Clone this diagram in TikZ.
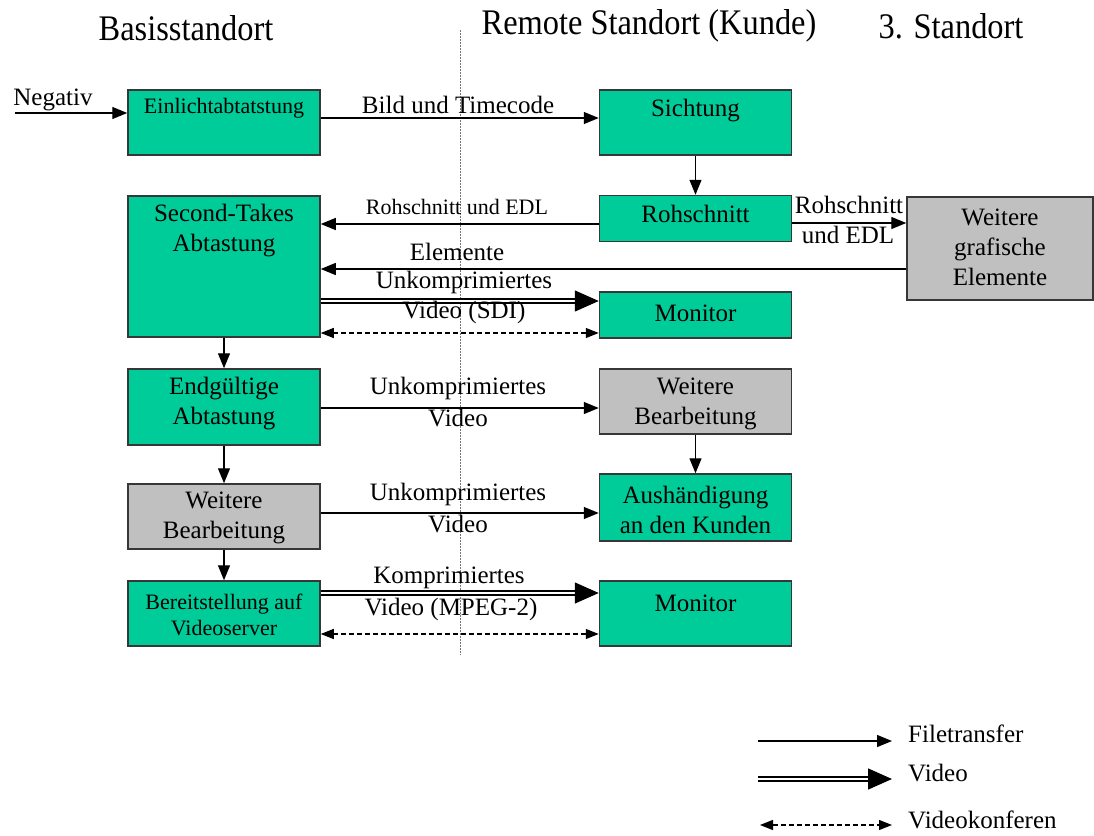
\documentclass[tikz,border=0pt]{standalone}
\usepackage{fontspec}
\setmainfont{Liberation Serif}
\newfontfamily\headfont[FakeStretch=0.9]{Liberation Serif}
\usetikzlibrary{arrows.meta}
\definecolor{boxgreen}{RGB}{0,204,153}
\definecolor{boxgray}{RGB}{192,192,192}
\definecolor{edge}{RGB}{55,55,55}
\definecolor{divider}{RGB}{120,120,120}

\begin{document}
\begin{tikzpicture}[x=1pt,y=-1pt,
  box/.style={draw=edge, line width=1.5pt, minimum width=192pt, inner sep=0pt},
  gbox/.style={box, fill=boxgreen},
  ybox/.style={box, fill=boxgray},
  txt/.style={inner sep=0pt, align=center, font=\fontsize{25}{30}\selectfont},
  smalltxt/.style={inner sep=0pt, align=center, font=\fontsize{22}{26}\selectfont},
  headtxt/.style={inner sep=0pt, font=\headfont\fontsize{36}{40}\selectfont},
  legtxt/.style={inner sep=0pt, anchor=west, font=\fontsize{25}{30}\selectfont},
  ft/.style={line width=1.3pt, -{Triangle[length=15pt,width=12pt]}},
  vid/.style={double, double distance=2.5pt, line width=1.4pt, -{Triangle[length=24pt,width=21pt]}},
  conf/.style={line width=1.3pt, dash pattern=on 5pt off 3pt,
    {Triangle[length=13pt,width=10pt]}-{Triangle[length=13pt,width=10pt]}},
]
\useasboundingbox (0,0) rectangle (1094,835);

% site divider
\draw[divider, line width=1pt, dash pattern=on 1.5pt off 1.5pt] (460,30) -- (460,655);

% site headings
\node[headtxt] (hBase) at (186,28) {Basisstandort};
\node[headtxt] (hRemote) at (649,26) {Remote Standort (Kunde)};
\node[headtxt] (hThird) at (951,26) {3. Standort};

% process boxes
\node[gbox, minimum height=65pt] (ein) at (224,122.5) {};
\node[gbox, minimum height=65pt] (sicht) at (695.5,122.5) {};
\node[gbox, minimum height=141pt] (second) at (224,266.5) {};
\node[gbox, minimum height=46pt] (roh) at (695.5,218.5) {};
\node[ybox, minimum width=186pt, minimum height=103pt] (graf) at (1000,248.5) {};
\node[gbox, minimum height=46pt] (mon1) at (695.5,315) {};
\node[gbox, minimum height=76pt] (endg) at (224,407) {};
\node[ybox, minimum height=65pt] (weitR) at (695.5,401.5) {};
\node[ybox, minimum height=65pt] (weitL) at (224,516.5) {};
\node[gbox, minimum height=67pt] (aush) at (695.5,507.5) {};
\node[gbox, minimum height=65pt] (bereit) at (224,613.5) {};
\node[gbox, minimum height=65pt] (mon2) at (695.5,613.5) {};

% box texts
\node[smalltxt] (einT) at (224,108) {Einlichtabtatstung};
\node[txt] (sichtT) at (695.5,111) {Sichtung};
\node[txt] (secondT) at (224,231) {Second-Takes\\Abtastung};
\node[txt] (rohT) at (695.5,214) {Rohschnitt};
\node[txt] (grafT) at (1000,247) {Weitere\\grafische\\Elemente};
\node[txt] (mon1T) at (695.5,313) {Monitor};
\node[txt] (endgT) at (224,404) {Endgültige\\Abtastung};
\node[txt] (weitRT) at (695.5,404) {Weitere\\Bearbeitung};
\node[txt] (weitLT) at (224,518) {Weitere\\Bearbeitung};
\node[txt] (aushT) at (695.5,510) {Aushändigung\\an den Kunden};
\node[smalltxt] (bereitT) at (224,615) {Bereitstellung auf\\Videoserver};
\node[txt] (mon2T) at (695.5,603) {Monitor};

% file transfers
\coordinate (negStart) at (15,113);
\draw[ft] (negStart) -- (negStart -| ein.west);
\node[txt] (negL) at (53,100) {Negativ};

\draw[ft] (ein.east |- 0,118) -- (sicht.west |- 0,118);
\node[txt] (bildL) at (458,105) {Bild und Timecode};

\draw[ft] (sicht.south) -- (roh.north);

\draw[ft] (roh.west |- 0,224) -- (second.east |- 0,224);
\node[smalltxt] (rohL1) at (457,207) {Rohschnitt und EDL};

\draw[ft] (roh.east |- 0,223) -- (graf.west |- 0,223);
\node[txt] (rohL2a) at (849,205) {Rohschnitt};
\node[txt] (rohL2b) at (848,235) {und EDL};

\draw[ft] (graf.west |- 0,269) -- (second.east |- 0,269);
\node[txt] (elemL) at (457,252) {Elemente};

% uncompressed video to first monitor
\draw[vid] (second.east |- 0,301) -- (mon1.west |- 0,301);
\node[txt] (sdiL1) at (464,282) {Unkomprimiertes};
\node[txt] (sdiL2) at (464,312) {Video (SDI)};
\draw[conf] (second.east |- 0,333) -- (mon1.west |- 0,333);

% vertical flow on the base site
\draw[ft] (second.south) -- (endg.north);
\draw[ft] (endg.south) -- (weitL.north);
\draw[ft] (weitL.south) -- (bereit.north);
\draw[ft] (weitR.south) -- (aush.north);

\draw[ft] (endg.east |- 0,408) -- (weitR.west |- 0,408);
\node[txt] (ukL1) at (458,388) {Unkomprimiertes};
\node[txt] (ukL2) at (458,418) {Video};

\draw[ft] (weitL.east |- 0,513) -- (aush.west |- 0,513);
\node[txt] (ukL3) at (458,494) {Unkomprimiertes};
\node[txt] (ukL4) at (458,524) {Video};

% compressed video to second monitor
\draw[vid] (bereit.east |- 0,593) -- (mon2.west |- 0,593);
\node[txt] (mpL1) at (449,578) {Komprimiertes};
\node[txt] (mpL2) at (451,609) {Video (MPEG-2)};
\draw[conf] (bereit.east |- 0,634) -- (mon2.west |- 0,634);

% legend
\coordinate (lgA1) at (758,741);
\coordinate (lgA2) at (892,741);
\draw[ft] (lgA1) -- (lgA2);
\node[legtxt] (lgT1) at (908,734) {Filetransfer};
\coordinate (lgB1) at (758,779);
\coordinate (lgB2) at (892,779);
\draw[vid] (lgB1) -- (lgB2);
\node[legtxt] (lgT2) at (908,773) {Video};
\coordinate (lgC1) at (760,825);
\coordinate (lgC2) at (892,825);
\draw[conf] (lgC1) -- (lgC2);
\node[legtxt] (lgT3) at (908,820) {Videokonferen};
\end{tikzpicture}
\end{document}
